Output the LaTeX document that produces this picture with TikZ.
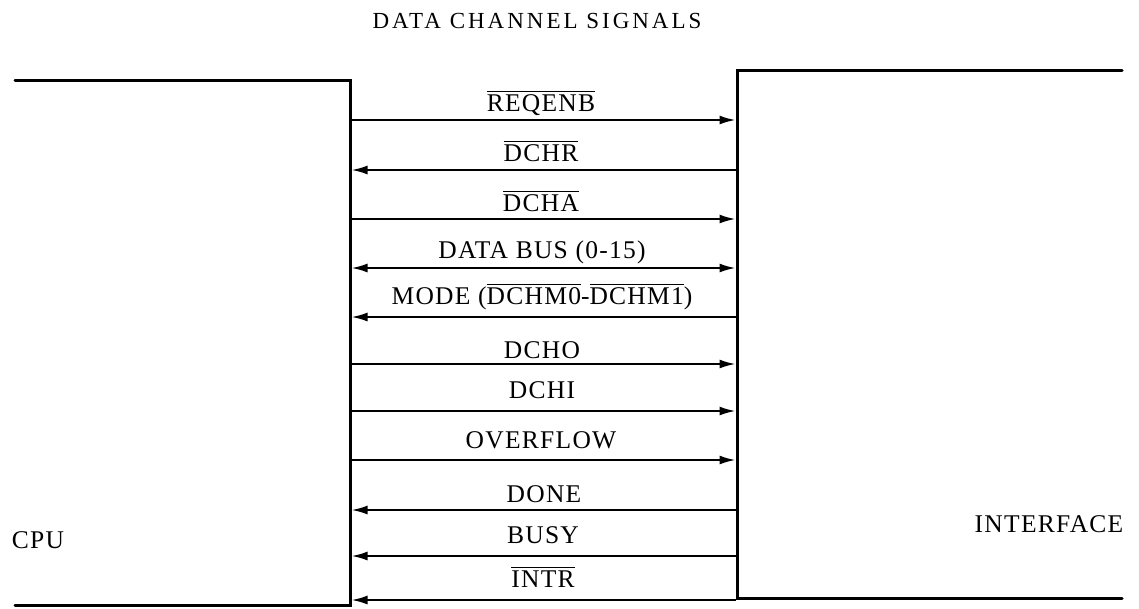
\documentclass[tikz,border=0pt]{standalone}
\usepackage{fontspec}
\setmainfont{Liberation Serif}
\newfontfamily\lblfont[LetterSpace=5]{Liberation Serif}
\newfontfamily\ttlfont[LetterSpace=13]{Liberation Serif}
\usetikzlibrary{arrows.meta}
\newcommand\ob[1]{\leavevmode\vbox{\hrule height 1.3pt\kern 2.2pt\hbox{#1}}}
\begin{document}
\begin{tikzpicture}[x=1pt,y=-1pt,
  boxline/.style={line width=3pt,line cap=round,line join=miter},
  sig/.style={line width=2pt},
  tip/.style={-{Latex[length=16pt,width=9pt]}},
  tipl/.style={{Latex[length=16pt,width=9pt]}-},
  tipb/.style={{Latex[length=16pt,width=9pt]}-{Latex[length=16pt,width=9pt]}},
  lbl/.style={font=\lblfont\fontsize{25.5}{28}\selectfont,inner sep=0pt},
  side/.style={font=\lblfont\fontsize{25.5}{28}\selectfont,inner sep=0pt},
  ttl/.style={font=\ttlfont\fontsize{23}{26}\selectfont,inner sep=0pt}]
\useasboundingbox (0,0) rectangle (1139,608);
% box outlines
\coordinate (LT0) at (15,80);
\coordinate (LT1) at (350,80);
\coordinate (LB1) at (350,605);
\coordinate (LB0) at (15,605);
\coordinate (RT0) at (1122,70);
\coordinate (RT1) at (737,70);
\coordinate (RB1) at (737,598);
\coordinate (RB0) at (1122,598);
\draw[boxline] (LT0) -- (LT1) -- (LB1) -- (LB0);
\draw[boxline] (RT0) -- (RT1) -- (RB1) -- (RB0);
% title and box labels
\node[ttl] (title) at (537,21) {DATA CHANNEL SIGNALS};
\node[side] (cpu) at (38,540) {CPU};
\node[side] (intf) at (1049,524) {INTERFACE};
% signal endpoints
\foreach \i/\y in {1/120,2/170,3/219,4/268,5/317,6/364,7/411,8/460,9/510,10/556,11/600}{
  \coordinate (L\i) at (351.5,\y);
  \coordinate (R\i) at (735.5,\y);
}
\draw[sig,tip]  (L1) -- (R1);
\draw[sig,tipl] (L2) -- (R2);
\draw[sig,tip]  (L3) -- (R3);
\draw[sig,tipb] (L4) -- (R4);
\draw[sig,tipl] (L5) -- (R5);
\draw[sig,tip]  (L6) -- (R6);
\draw[sig,tip]  (L7) -- (R7);
\draw[sig,tip]  (L8) -- (R8);
\draw[sig,tipl] (L9) -- (R9);
\draw[sig,tipl] (L10) -- (R10);
\draw[sig,tipl] (L11) -- (R11);
% labels
\node[lbl] (n1) at (541,103) {\ob{REQENB}};
\node[lbl] (n2) at (541,151) {\ob{DCHR}};
\node[lbl] (n3) at (541,201) {\ob{DCHA}};
\node[lbl] (n4) at (542,252) {DATA BUS (0-15)};
\node[lbl] (n5) at (542,297) {MODE (\ob{DCHM0}-\ob{DCHM1})};
\node[lbl] (n6) at (542,350) {DCHO};
\node[lbl] (n7) at (542,390) {DCHI};
\node[lbl] (n8) at (541,440) {OVERFLOW};
\node[lbl] (n9) at (544,494) {DONE};
\node[lbl] (n10) at (543,535) {BUSY};
\node[lbl] (n11) at (543,577) {\ob{INTR}};
\end{tikzpicture}
\end{document}
